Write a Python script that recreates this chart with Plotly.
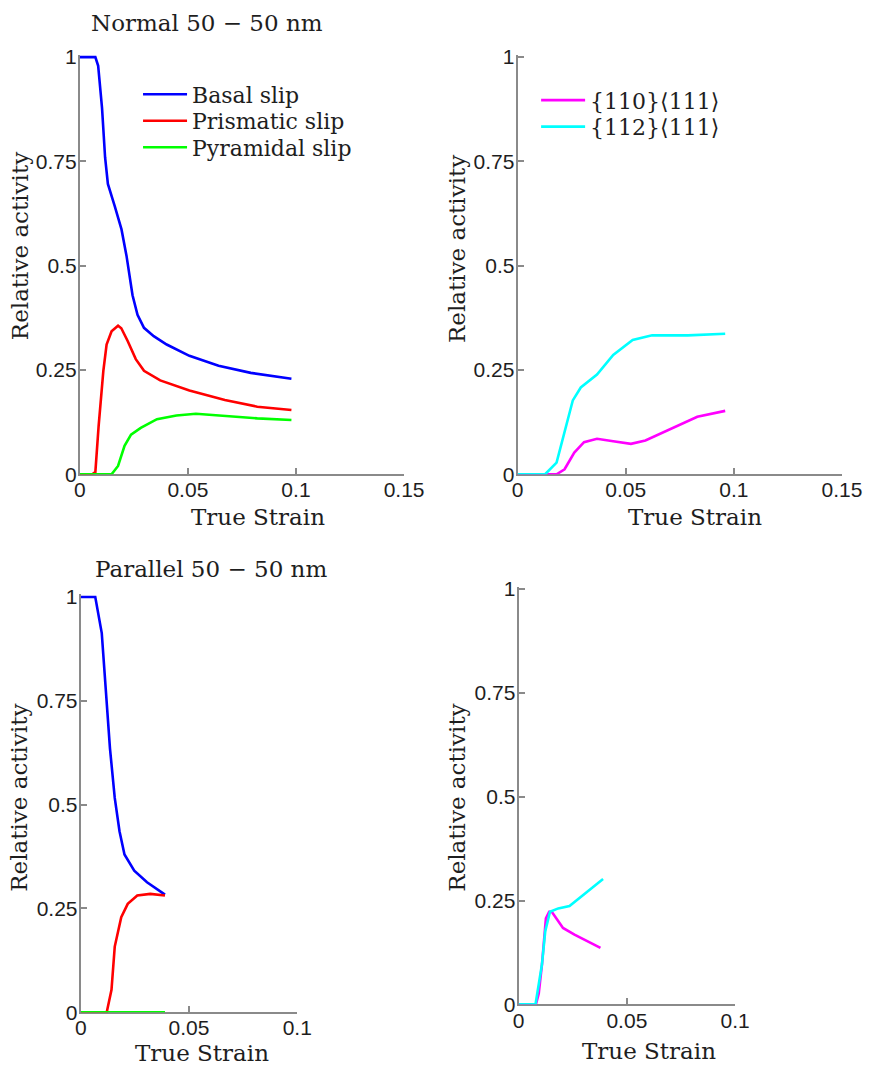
import plotly.graph_objects as go

# The page keeps the browser's default 8px body margin; the figure is drawn
# at full window size and every position below is given in window pixels,
# shifted by that margin.
W, H = 893, 1086
BODY_MARGIN = 8

# ---- Normal 50-50 nm : hcp slip systems ----
basal_n_x = [0, 0.0072, 0.0085, 0.0103, 0.0117, 0.0130, 0.0162, 0.0193, 0.0216, 0.0244,
             0.0267, 0.0297, 0.0342, 0.0402, 0.0507, 0.0642, 0.0791, 0.0979]
basal_n_y = [1.0, 1.0, 0.979, 0.877, 0.76, 0.696, 0.642, 0.587, 0.524, 0.429,
             0.382, 0.351, 0.331, 0.311, 0.284, 0.260, 0.243, 0.229]

prism_n_x = [0, 0.0057, 0.0072, 0.0087, 0.0109, 0.0124, 0.0147, 0.0177, 0.0192, 0.0222,
             0.0259, 0.0297, 0.0372, 0.0507, 0.0671, 0.0821, 0.0979]
prism_n_y = [0.0, 0.0, 0.005, 0.115, 0.248, 0.311, 0.343, 0.356, 0.350, 0.319,
             0.276, 0.248, 0.225, 0.201, 0.178, 0.162, 0.154]

pyram_n_x = [0, 0.0147, 0.0177, 0.0207, 0.0237, 0.0282, 0.0357, 0.0447, 0.0537, 0.0671,
             0.0821, 0.0979]
pyram_n_y = [0.0, 0.0, 0.020, 0.068, 0.095, 0.111, 0.132, 0.141, 0.145, 0.140,
             0.134, 0.130]

# ---- Normal 50-50 nm : bcc slip systems ----
s110_n_x = [0, 0.0180, 0.0217, 0.0262, 0.0307, 0.0367, 0.0442, 0.0524, 0.0591, 0.0711,
            0.0831, 0.0960]
s110_n_y = [0.0, 0.0, 0.012, 0.052, 0.077, 0.085, 0.079, 0.073, 0.081, 0.110,
            0.138, 0.152]

s112_n_x = [0, 0.0127, 0.0180, 0.0217, 0.0255, 0.0292, 0.0367, 0.0442, 0.0532, 0.0622,
            0.0787, 0.0960]
s112_n_y = [0.0, 0.0, 0.028, 0.099, 0.177, 0.208, 0.239, 0.286, 0.322, 0.333,
            0.333, 0.337]

# ---- Parallel 50-50 nm : hcp slip systems ----
basal_p_x = [0, 0.0067, 0.0097, 0.0112, 0.0135, 0.0157, 0.0179, 0.0202, 0.0247, 0.0306,
             0.0389]
basal_p_y = [1.0, 1.0, 0.913, 0.794, 0.635, 0.516, 0.436, 0.380, 0.341, 0.313,
             0.283]

prism_p_x = [0, 0.0120, 0.0142, 0.0157, 0.0187, 0.0217, 0.0261, 0.0321, 0.0389]
prism_p_y = [0.0, 0.0, 0.054, 0.158, 0.229, 0.261, 0.281, 0.285, 0.281]

pyram_p_x = [0, 0.0389]
pyram_p_y = [0.0, 0.0]

# ---- Parallel 50-50 nm : bcc slip systems ----
s110_p_x = [0, 0.0080, 0.0093, 0.0108, 0.0126, 0.0141, 0.0153, 0.0205, 0.0258, 0.0318,
            0.0378]
s110_p_y = [0.0, 0.0, 0.026, 0.097, 0.207, 0.223, 0.223, 0.184, 0.168, 0.152,
            0.136]

s112_p_x = [0, 0.0078, 0.0108, 0.0123, 0.0145, 0.0183, 0.0235, 0.0303, 0.0390]
s112_p_y = [0.0, 0.0, 0.097, 0.176, 0.223, 0.231, 0.237, 0.266, 0.302]

# axis ticks
y_ticks = [0, 0.25, 0.5, 0.75, 1]
y_tick_text = ["0", "0.25", "0.5", "0.75", "1"]
x_ticks_top = [0, 0.05, 0.1, 0.15]
x_tick_text_top = ["0", "0.05", "0.1", "0.15"]
x_ticks_bot = [0, 0.05, 0.1]
x_tick_text_bot = ["0", "0.05", "0.1"]

hcp_names = ["Basal slip", "Prismatic slip", "Pyramidal slip"]
bcc_names = ["{110}\u27e8111\u27e9", "{112}\u27e8111\u27e9"]

BLUE, RED, GREEN = "#0000ff", "#ff0000", "#00ff00"
MAGENTA, CYAN = "#ff00ff", "#00ffff"
LW = 2.6

SERIF = "DejaVu Serif"
SANS = "Liberation Sans, Arial, sans-serif"
AXIS_GRAY = "#8a8a8a"
TEXT_COLOR = "#1e1e1e"

fig = go.Figure()


def add_line(x, y, color, name, xa, ya, legend=None):
    fig.add_trace(go.Scatter(
        x=x, y=y, mode="lines", name=name,
        line=dict(color=color, width=LW),
        xaxis=xa, yaxis=ya,
        legend=legend or "legend", showlegend=legend is not None,
    ))


# top-left: each legend row is its own legend box so rows sit tight together
add_line(basal_n_x, basal_n_y, BLUE, hcp_names[0], "x", "y", "legend")
add_line(prism_n_x, prism_n_y, RED, hcp_names[1], "x", "y", "legend2")
add_line(pyram_n_x, pyram_n_y, GREEN, hcp_names[2], "x", "y", "legend3")
# top-right
add_line(s110_n_x, s110_n_y, MAGENTA, bcc_names[0], "x2", "y2", "legend4")
add_line(s112_n_x, s112_n_y, CYAN, bcc_names[1], "x2", "y2", "legend5")
# bottom-left
add_line(basal_p_x, basal_p_y, BLUE, hcp_names[0], "x3", "y3")
add_line(prism_p_x, prism_p_y, RED, hcp_names[1], "x3", "y3")
add_line(pyram_p_x, pyram_p_y, GREEN, hcp_names[2], "x3", "y3")
# bottom-right
add_line(s110_p_x, s110_p_y, MAGENTA, bcc_names[0], "x4", "y4")
add_line(s112_p_x, s112_p_y, CYAN, bcc_names[1], "x4", "y4")


def px_x(p):
    return (p - BODY_MARGIN) / W


def px_y(p):
    return 1 - (p - BODY_MARGIN) / H


axis_common = dict(
    showline=True, linecolor=AXIS_GRAY, linewidth=2,
    ticks="inside", ticklen=6, tickwidth=1.5, tickcolor=AXIS_GRAY,
    showgrid=False, zeroline=False, mirror=False,
    tickfont=dict(family=SANS, size=21, color=TEXT_COLOR),
    layer="below traces", fixedrange=True,
)

Y_TOP = 1.006


def xaxis(left, right, ticks, text, rng, anchor):
    return dict(axis_common, domain=[px_x(left), px_x(right)], range=rng,
                tickvals=ticks, ticktext=text, anchor=anchor,
                ticklabelstandoff=-4)


def yaxis(zero_px, one_px, anchor):
    top_px = one_px - (zero_px - one_px) * (Y_TOP - 1)
    return dict(axis_common, domain=[px_y(zero_px), px_y(top_px)], range=[0, Y_TOP],
                tickvals=y_ticks, ticktext=y_tick_text, anchor=anchor,
                ticklabelstandoff=-3)


def legend_box(x, y):
    return dict(
        x=px_x(x), y=px_y(y), xanchor="left", yanchor="middle",
        bgcolor="rgba(0,0,0,0)", borderwidth=0,
        font=dict(family=SERIF, size=22, color=TEXT_COLOR),
        itemwidth=44,
    )


fig.update_layout(
    width=W, height=H, autosize=False,
    margin=dict(l=0, r=0, t=0, b=0),
    paper_bgcolor="white", plot_bgcolor="white",
    xaxis=xaxis(84, 418, x_ticks_top, x_tick_text_top, [0, 0.15], "y"),
    yaxis=yaxis(482, 57, "x"),
    xaxis2=xaxis(535, 869, x_ticks_top, x_tick_text_top, [0, 0.15], "y2"),
    yaxis2=yaxis(482, 57, "x2"),
    xaxis3=xaxis(85, 308, x_ticks_bot, x_tick_text_bot, [0, 0.1], "y3"),
    yaxis3=yaxis(1030, 607, "x3"),
    xaxis4=xaxis(536, 759, x_ticks_bot, x_tick_text_bot, [0, 0.1], "y4"),
    yaxis4=yaxis(1022, 599, "x4"),
    legend=legend_box(144, 95),
    legend2=legend_box(144, 122),
    legend3=legend_box(144, 149),
    legend4=legend_box(554, 101),
    legend5=legend_box(554, 128),
)


def label(text, x, y, angle=0):
    fig.add_annotation(
        text=text, x=px_x(x), y=px_y(y), xref="paper", yref="paper",
        xanchor="center", yanchor="middle", showarrow=False, textangle=angle,
        font=dict(family=SERIF, size=23, color=TEXT_COLOR),
    )


label("Normal 50 \u2212 50 nm", 215, 22)
label("Parallel 50 \u2212 50 nm", 219, 579)
label("True Strain", 268, 526)
label("True Strain", 718, 526)
label("True Strain", 210, 1072)
label("True Strain", 670, 1070)
label("Relative activity", 22, 250, -90)
label("Relative activity", 472, 252, -90)
label("Relative activity", 22, 812, -90)
label("Relative activity", 473, 811, -90)

fig.write_html("out.html")
